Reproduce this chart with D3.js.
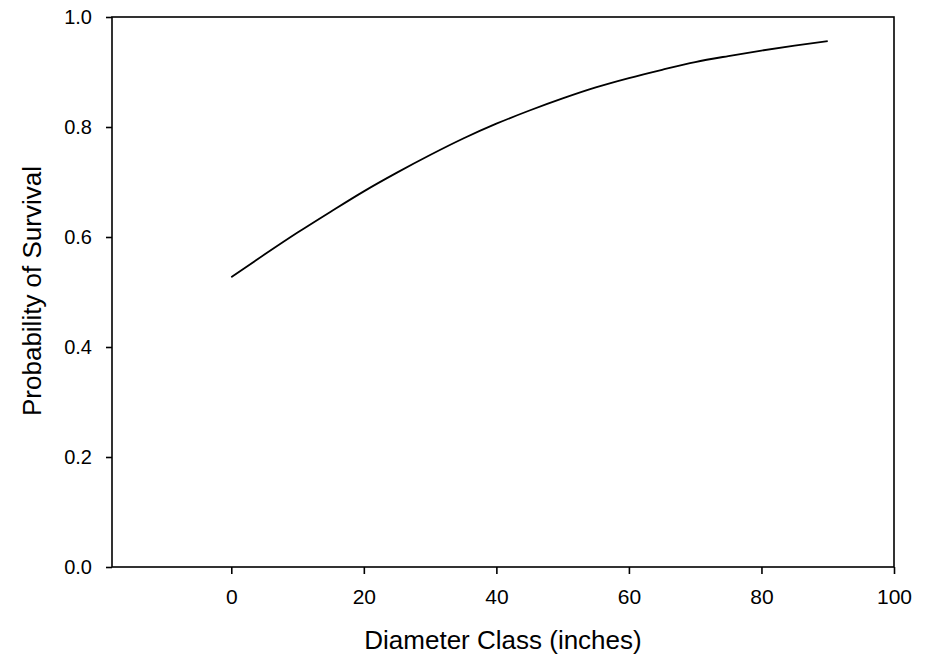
<!DOCTYPE html>
<html>
<head>
<meta charset="utf-8">
<script src="https://cdn.jsdelivr.net/npm/d3@7"></script>
<style>
  body { margin: 0; background: #fff; }
  svg text { font-family: Arial, "Liberation Sans", sans-serif; fill: #000; }
</style>
</head>
<body>
<div id="chart"></div>
<script>
// values (diameter class vs. survival probability)
const diameter = [0, 5, 10, 15, 20, 25, 30, 35, 40, 45, 50, 55, 60, 65, 70, 75, 80, 85, 90];
const survival = [0.527, 0.568, 0.608, 0.646, 0.683, 0.717, 0.749, 0.779, 0.806, 0.830,
                  0.852, 0.872, 0.889, 0.904, 0.918, 0.929, 0.939, 0.948, 0.956];
const xTicks = [0, 20, 40, 60, 80, 100];
const yTicks = [0, 0.2, 0.4, 0.6, 0.8, 1.0];

const width = 926, height = 654;
const margin = { top: 17, right: 32, bottom: 87, left: 112 };

const svg = d3.select('#chart').append('svg')
  .attr('width', width)
  .attr('height', height);

const x = d3.scaleLinear().domain([-18, 100]).range([margin.left, width - margin.right]);
const y = d3.scaleLinear().domain([0, 1]).range([height - margin.bottom, margin.top]);

// frame
svg.append('rect')
  .attr('x', margin.left)
  .attr('y', margin.top)
  .attr('width', width - margin.left - margin.right)
  .attr('height', height - margin.top - margin.bottom)
  .attr('fill', 'none')
  .attr('stroke', '#000')
  .attr('stroke-width', 1.6);

// x axis
const xAxis = svg.append('g')
  .attr('transform', `translate(0,${height - margin.bottom})`)
  .call(d3.axisBottom(x).tickValues(xTicks).tickSize(7).tickPadding(15).tickFormat(d3.format('d')));
xAxis.select('.domain').remove();
xAxis.selectAll('line').attr('stroke-width', 1.6);
xAxis.selectAll('text').attr('font-size', 21).attr('font-family', 'Arial, "Liberation Sans", sans-serif');

// y axis
const yAxis = svg.append('g')
  .attr('transform', `translate(${margin.left},0)`)
  .call(d3.axisLeft(y).tickValues(yTicks).tickSize(6).tickPadding(14).tickFormat(d3.format('.1f')));
yAxis.select('.domain').remove();
yAxis.selectAll('line').attr('stroke-width', 1.6);
yAxis.selectAll('text').attr('font-size', 20).attr('font-family', 'Arial, "Liberation Sans", sans-serif');

// curve
const line = d3.line()
  .x((d, i) => x(diameter[i]))
  .y(d => y(d))
  .curve(d3.curveMonotoneX);

svg.append('path')
  .datum(survival)
  .attr('d', line)
  .attr('fill', 'none')
  .attr('stroke', '#000')
  .attr('stroke-width', 1.8);

// axis titles
svg.append('text')
  .attr('x', 503)
  .attr('y', 649)
  .attr('text-anchor', 'middle')
  .attr('font-size', 26)
  .text('Diameter Class (inches)');

svg.append('text')
  .attr('transform', 'translate(41,291) rotate(-90)')
  .attr('text-anchor', 'middle')
  .attr('font-size', 26)
  .text('Probability of Survival');
</script>
</body>
</html>
